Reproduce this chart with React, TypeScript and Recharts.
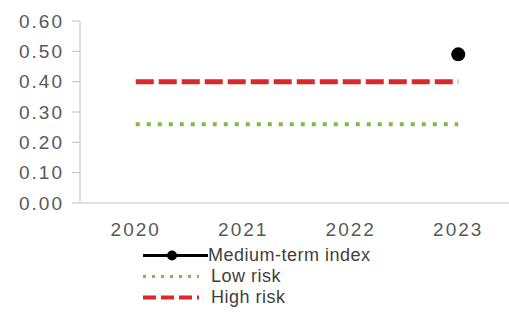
import { Legend, Line, LineChart, XAxis, YAxis } from 'recharts';

const years = ['2020', '2021', '2022', '2023'];
const mediumTermIndex = [null, null, null, 0.49];
const lowRisk = [0.26, 0.26, 0.26, 0.26];
const highRisk = [0.4, 0.4, 0.4, 0.4];
const yTicks = [0, 0.1, 0.2, 0.3, 0.4, 0.5, 0.6];

const seriesNames = ['Medium-term index', 'Low risk', 'High risk'];

const FONT = '"Liberation Sans", Arial, sans-serif';
const BLACK = '#000000';
const GREEN = '#7dbb45';
const RED = '#d9292b';

const chartData = years.map((year, i) => ({
    year,
    medium: mediumTermIndex[i],
    low: lowRisk[i],
    high: highRisk[i],
}));

function LegendIcon({ name }) {
    if (name === seriesNames[0]) {
        return (
            <svg width={66} height={21}>
                <line x1={0} y1={10.5} x2={65} y2={10.5} stroke={BLACK} strokeWidth={3} />
                <circle cx={29} cy={10.5} r={5} fill={BLACK} />
            </svg>
        );
    }
    if (name === seriesNames[1]) {
        return (
            <svg width={66} height={21}>
                <line x1={0} y1={10.5} x2={56} y2={10.5} stroke={GREEN} strokeWidth={3} strokeDasharray="3 6" />
            </svg>
        );
    }
    return (
        <svg width={66} height={21}>
            <line x1={0} y1={10.5} x2={56} y2={10.5} stroke={RED} strokeWidth={4} strokeDasharray="13 5" />
        </svg>
    );
}

function renderLegend({ payload }) {
    const entries = [...(payload ?? [])].sort((a, b) => seriesNames.indexOf(a.value) - seriesNames.indexOf(b.value));
    return (
        <div style={{ fontFamily: FONT, fontSize: 18, color: '#404040', letterSpacing: 0.5 }}>
            {entries.map((entry) => (
                <div key={entry.value} style={{ display: 'flex', alignItems: 'center', height: 21 }}>
                    <LegendIcon name={entry.value} />
                    <span style={{ marginLeft: entry.value === seriesNames[0] ? -1 : 2, lineHeight: '21px' }}>{entry.value}</span>
                </div>
            ))}
        </div>
    );
}

export default function App() {
    return (
        <div style={{ position: 'absolute', left: 0, top: 0, width: 509, height: 323, overflow: 'hidden', background: '#fff' }}>
            <LineChart width={512} height={323} data={chartData} margin={{ top: 21, right: 0, left: 0, bottom: 90 }}>
                <XAxis
                    dataKey="year"
                    scale="band"
                    height={30}
                    tickLine={false}
                    tickSize={6}
                    tickMargin={14}
                    axisLine={{ stroke: '#d9d9d9', strokeWidth: 1.5 }}
                    padding={{ left: 2, right: 0 }}
                    tick={{ fill: '#595959', fontSize: 19, fontFamily: FONT, letterSpacing: 2 }}
                />
                <YAxis
                    width={80}
                    domain={[0, 0.6]}
                    ticks={yTicks}
                    tickFormatter={(v) => v.toFixed(2)}
                    tickSize={8}
                    tickMargin={8}
                    stroke="#bfbfbf"
                    tickLine={{ stroke: '#bfbfbf' }}
                    tick={{ fill: '#595959', fontSize: 19, fontFamily: FONT, letterSpacing: 2 }}
                />
                <Legend
                    layout="vertical"
                    align="center"
                    verticalAlign="middle"
                    content={renderLegend}
                    wrapperStyle={{ position: 'absolute', left: 143, top: 245, width: 'auto' }}
                />
                <Line
                    name={seriesNames[0]}
                    dataKey="medium"
                    stroke={BLACK}
                    strokeWidth={3}
                    dot={{ r: 7, fill: BLACK, stroke: BLACK, strokeWidth: 0 }}
                    isAnimationActive={false}
                />
                <Line
                    name={seriesNames[1]}
                    dataKey="low"
                    stroke={GREEN}
                    strokeWidth={4}
                    strokeDasharray="4 7"
                    dot={false}
                    isAnimationActive={false}
                />
                <Line
                    name={seriesNames[2]}
                    dataKey="high"
                    stroke={RED}
                    strokeWidth={5}
                    strokeDasharray="18 5"
                    dot={false}
                    isAnimationActive={false}
                />
            </LineChart>
        </div>
    );
}
